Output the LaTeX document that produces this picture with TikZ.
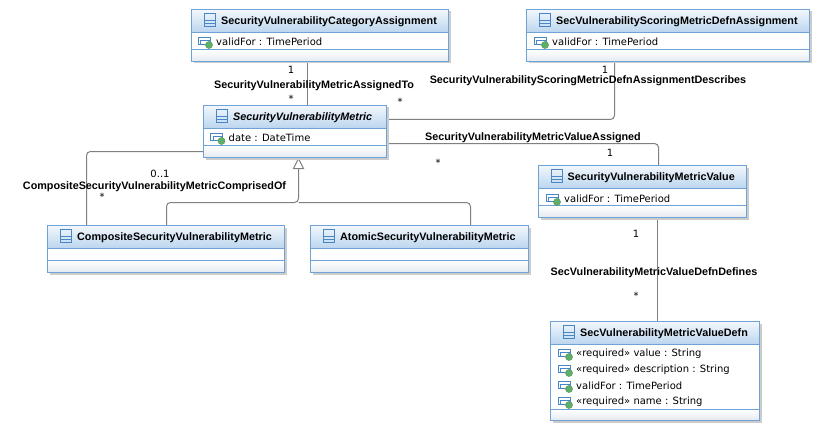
\documentclass[tikz,border=0pt]{standalone}
\usepackage{fontspec}
\setmainfont{DejaVu Sans}
\newfontfamily\boldfam{Liberation Sans}
\usetikzlibrary{calc,positioning}
\definecolor{boxedge}{HTML}{6FA3D8}
\definecolor{headtop}{HTML}{F2F7FC}
\definecolor{headbot}{HTML}{BAD5EE}
\definecolor{foot}{HTML}{E4E9F0}
\definecolor{conn}{HTML}{808080}
\definecolor{shadowc}{HTML}{CCCCCC}
\definecolor{attrgreen}{HTML}{5FAE6A}
\definecolor{uedge}{HTML}{4A86C5}
\tikzset{
  x=1pt,y=-1pt,
  conline/.style={draw=conn,line width=1pt,rounded corners=4pt},
  lab/.style={font=\boldfam\fontsize{10.8}{13}\selectfont\bfseries,inner sep=0pt,anchor=center,text=black,yshift=-1pt},
  mult/.style={font=\fontsize{10}{12}\selectfont,inner sep=0pt,anchor=center,text=black},
  attr/.style={font=\fontsize{10}{12}\selectfont,inner sep=0pt,anchor=west,text=black,yshift=-0.8pt},
  ctitle/.style={font=\boldfam\fontsize{10.8}{13}\selectfont\bfseries,inner sep=0pt,anchor=west,text=black,yshift=-1pt},
}
% #1 x0, #2 y0, #3 x1, #4 y1, #5 header bottom, #6 divider y, #7 icon x, #8 title node
\newcommand{\umlbox}[8]{%
  \fill[shadowc] (#1+2,#2+2) rectangle (#3+2,#4+2);
  \shade[top color=white,bottom color=foot] (#1,#6) rectangle (#3,#4);
  \fill[white] (#1,#5) rectangle (#3,#6);
  \shade[top color=headtop,bottom color=headbot] (#1,#2) rectangle (#3,#5);
  \draw[boxedge,line width=1pt] (#1,#2) rectangle (#3,#4);
  \draw[boxedge,line width=1pt] (#1,#5) -- (#3,#5);
  \draw[boxedge,line width=1pt] (#1,#6) -- (#3,#6);
  \draw[uedge,line width=0.9pt] (#7,#2+4) rectangle (#7+11,#2+17);
  \draw[uedge,line width=0.9pt] (#7,#2+11) -- (#7+11,#2+11) (#7,#2+14) -- (#7+11,#2+14);
  #8
}
\newcommand{\attricon}[2]{%
  \draw[uedge,line width=0.9pt,fill=white] (#1,#2-3.5) rectangle (#1+12,#2+3.5);
  \draw[uedge,line width=0.9pt,fill=white] (#1+2.5,#2-1) rectangle (#1+12,#2+3.5);
  \fill[attrgreen] (#1+11,#2+4) circle (3.6);
  \draw[green!40!black!70,line width=0.3pt] (#1+11,#2+4) circle (3.6);
}
\begin{document}
\begin{tikzpicture}
\useasboundingbox (0,0) rectangle (823,436);
\fill[white] (0,0) rectangle (823,436);

% connector end points on the box edges
\coordinate (catS) at (307.5,61);
\coordinate (metN) at (307.5,106);
\coordinate (scoreS) at (614.5,61);
\coordinate (metE1) at (386,119.5);
\coordinate (metE2) at (386,143.5);
\coordinate (valN) at (658.5,166);
\coordinate (valS) at (657.5,217);
\coordinate (defN) at (657.5,322);
\coordinate (metW) at (204,151.5);
\coordinate (compN1) at (86.5,226);
\coordinate (compN2) at (166.5,226);
\coordinate (atomN) at (470.5,226);
\draw[conline] (catS) -- (metN);
\draw[conline] (scoreS) -- (614.5,119.5) -- (metE1);
\draw[conline] (metE2) -- (658.5,143.5) -- (valN);
\draw[conline] (valS) -- (defN);
\draw[conline] (metW) -- (86.5,151.5) -- (compN1);
\draw[conline] (compN2) -- (166.5,202.5) -- (298.5,202.5) -- (298.5,169);
\draw[conline] (atomN) -- (470.5,202.5) -- (298.5,202.5);
\draw[conn,line width=1pt,fill=white] (298.5,158.5) -- (303.5,168.5) -- (293.5,168.5) -- cycle;

% boxes
\umlbox{191.5}{9.5}{448.5}{61.5}{32.5}{49.5}{204}{\node[ctitle] (catT) at (221,21) {SecurityVulnerabilityCategoryAssignment};}
\attricon{198}{41}
\node[attr] (catA) at (216,41) {validFor : TimePeriod};

\umlbox{526.5}{9.5}{809.5}{61.5}{32.5}{49.5}{539}{\node[ctitle] (scoreT) at (556,21) {SecVulnerabilityScoringMetricDefnAssignment};}
\attricon{534}{41}
\node[attr] (scoreA) at (552,41) {validFor : TimePeriod};

\umlbox{203.5}{105.5}{386.5}{157.5}{128.5}{145.5}{216.5}{\node[ctitle,font=\boldfam\fontsize{10.8}{13}\selectfont\bfseries\itshape] (metT) at (233,117) {SecurityVulnerabilityMetric};}
\attricon{210.5}{137}
\node[attr] (metA) at (228.5,137) {date : DateTime};

\umlbox{47.5}{225.5}{284.5}{272.5}{248.5}{260.5}{60.5}{\node[ctitle] (compT) at (77,237) {CompositeSecurityVulnerabilityMetric};}
\umlbox{310.5}{225.5}{528.5}{272.5}{248.5}{260.5}{323.5}{\node[ctitle] (atomT) at (340,237) {AtomicSecurityVulnerabilityMetric};}

\umlbox{538.5}{165.5}{746.5}{217.5}{188.5}{205.5}{551}{\node[ctitle] (valT) at (567.5,177) {SecurityVulnerabilityMetricValue};}
\attricon{546}{198}
\node[attr] (valA) at (564,197.5) {validFor : TimePeriod};

\umlbox{550.5}{321.5}{759.5}{420.5}{344.5}{409.5}{563.5}{\node[ctitle] (defT) at (580,333) {SecVulnerabilityMetricValueDefn};}
\attricon{558}{353}
\node[attr] (d1) at (576,353) {«required» value : String};
\attricon{558}{369}
\node[attr] (d2) at (576,369) {«required» description : String};
\attricon{558}{385}
\node[attr] (d3) at (576,385) {validFor : TimePeriod};
\attricon{558}{401}
\node[attr] (d4) at (576,401) {«required» name : String};

% labels
\node[mult] (m1) at (291,70) {1};
\node[lab] (l1) at (314,85) {SecurityVulnerabilityMetricAssignedTo};
\node[mult] (m2) at (291,99) {*};
\node[mult] (m3) at (400,102) {*};
\node[mult] (m4) at (605,70) {1};
\node[lab] (l2) at (588,80) {SecurityVulnerabilityScoringMetricDefnAssignmentDescribes};
\node[lab] (l3) at (533,137) {SecurityVulnerabilityMetricValueAssigned};
\node[mult] (m5) at (438,163) {*};
\node[mult] (m6) at (610,153) {1};
\node[mult] (m7) at (160,174) {0..1};
\node[lab] (l4) at (154.5,185.5) {CompositeSecurityVulnerabilityMetricComprisedOf};
\node[mult] (m8) at (102,197) {*};
\node[mult] (m9) at (636,234) {1};
\node[lab] (l5) at (654,272) {SecVulnerabilityMetricValueDefnDefines};
\node[mult] (m10) at (636,296) {*};
\end{tikzpicture}
\end{document}
